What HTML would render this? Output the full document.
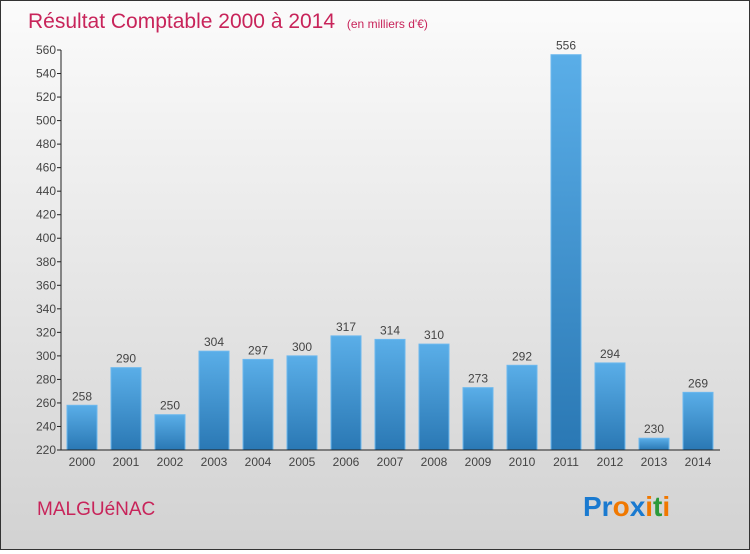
<!DOCTYPE html>
<html><head><meta charset="utf-8"><style>
html,body{margin:0;padding:0}
body{width:750px;height:550px;overflow:hidden;font-family:"Liberation Sans",sans-serif}
#wrap{position:relative;width:748px;height:548px;border:1px solid #333;background:linear-gradient(#fbfbfb,#d2d2d2)}
</style></head><body>
<div id="wrap">
<svg id="chart" width="748" height="548">
<defs><linearGradient id="bg" x1="0" y1="0" x2="0" y2="1"><stop offset="0" stop-color="#5aaee8"/><stop offset="1" stop-color="#2a78b4"/></linearGradient></defs>
<text x="27" y="27" font-size="21" fill="#c8245a">Résultat Comptable 2000 à 2014 <tspan font-size="12" dx="6">(en milliers d'€)</tspan></text>
<g id="bars"></g>
<g id="axes"></g>
<text x="36" y="514" font-size="19" fill="#c8245a">MALGUéNAC</text>
<text x="582" y="515" font-size="28" font-weight="bold"><tspan fill="#1a7ad0">Pr</tspan><tspan fill="#f07800">o</tspan><tspan fill="#1a7ad0">x</tspan><tspan fill="#f07800">i</tspan><tspan fill="#2a9a3a">t</tspan><tspan fill="#f07800">i</tspan></text>
</svg>
</div>
<script>
const categories=["2000","2001","2002","2003","2004","2005","2006","2007","2008","2009","2010","2011","2012","2013","2014"];
const values=[258,290,250,304,297,300,317,314,310,273,292,556,294,230,269];
const yTicks=[220,240,260,280,300,320,340,360,380,400,420,440,460,480,500,520,540,560];
const NS="http://www.w3.org/2000/svg";
const y0=449,y1=49,vmin=220,vmax=560,xl=60,xr=719;
const y=v=>y0-(v-vmin)/(vmax-vmin)*(y0-y1);
const x=i=>81+i*44;
function mk(t,a){const e=document.createElementNS(NS,t);for(const k in a)e.setAttribute(k,a[k]);return e;}
const bars=document.getElementById('bars'),axes=document.getElementById('axes');
categories.forEach((c,i)=>{
 const r=mk('rect',{x:x(i)-15,y:y(values[i]),width:30,height:y0-y(values[i]),fill:'url(#bg)',stroke:'#6cb8ee','stroke-width':1});
 
 
 bars.appendChild(r);
 const t=mk('text',{x:x(i),y:y(values[i])-5,'font-size':12,fill:'#444','text-anchor':'middle'});
 t.textContent=values[i];
 
 
 bars.appendChild(t);
 const l=mk('text',{x:x(i),y:y0+16,'font-size':12,fill:'#444','text-anchor':'middle'});
 l.textContent=c;
 
 
 axes.appendChild(l);
});
yTicks.forEach(v=>{
 const tk=mk('line',{x1:xl-4,x2:xl,y1:y(v),y2:y(v),stroke:'#222'});
 
 
 axes.appendChild(tk);
 const t=mk('text',{x:xl-5,y:y(v)+4,'font-size':12,fill:'#444','text-anchor':'end'});
 t.textContent=v;
 
 
 axes.appendChild(t);
});
const ya=mk('line',{x1:xl,x2:xl,y1:y1,y2:y0,stroke:'#222'});


axes.appendChild(ya);
const xa=mk('line',{x1:xl,x2:xr,y1:y0,y2:y0,stroke:'#222'});


axes.appendChild(xa);
</script>
</body></html>
